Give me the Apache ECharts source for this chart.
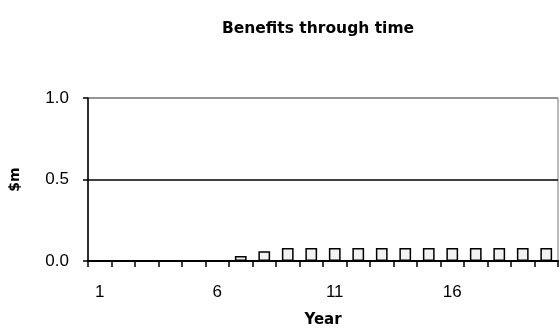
<!DOCTYPE html>
<html>
<head>
<meta charset="utf-8">
<script src="https://cdn.jsdelivr.net/npm/echarts@6/dist/echarts.min.js"></script>
<style>html,body{margin:0;padding:0;background:#fff}#c{width:560px;height:335px}</style>
</head>
<body>
<div id="c"></div>
<script>
const years = ['1','2','3','4','5','6','7','8','9','10','11','12','13','14','15','16','17','18','19','20'];
const benefits = [0,0,0,0,0,0,0.03,0.06,0.08,0.08,0.08,0.08,0.08,0.08,0.08,0.08,0.08,0.08,0.08,0.08];
const yTicks = [0, 0.5, 1.0];

const chart = echarts.init(document.getElementById('c'), null, {renderer:'canvas'});
const font = 'Liberation Sans, Arial, sans-serif';
chart.setOption({
  animation: false,
  backgroundColor: '#fff',
  title: {
    text: 'Benefits through time',
    left: 313, top: 16, textAlign: 'center',
    textStyle: {fontFamily: 'DejaVu Sans', fontWeight: 'bold', fontSize: 15.5, color: '#000'}
  },
  grid: {left: 81, right: 2, top: 98, bottom: 74, show: true, borderColor: '#777', borderWidth: 1},
  xAxis: {
    type: 'category',
    data: years,
    name: 'Year',
    nameLocation: 'middle',
    nameGap: 52,
    nameTextStyle: {fontFamily: 'DejaVu Sans', fontWeight: 'bold', fontSize: 15, color: '#000'},
    axisLine: {lineStyle: {color: '#000', width: 2}},
    axisTick: {show: true, alignWithLabel: false, interval: 0, length: 6, lineStyle: {color: '#000', width: 1.5}},
    axisLabel: {interval: 4, margin: 23, fontFamily: font, fontSize: 17, color: '#000'},
    splitLine: {show: false}
  },
  yAxis: {
    type: 'value',
    min: yTicks[0], max: yTicks[yTicks.length-1], interval: 0.5,
    name: '$m',
    nameLocation: 'middle',
    nameGap: 66,
    nameRotate: 90,
    nameTextStyle: {fontFamily: 'DejaVu Sans', fontWeight: 'bold', fontSize: 14, color: '#000'},
    axisLine: {show: true, lineStyle: {color: '#000', width: 1.5}},
    axisTick: {show: true, length: 5, lineStyle: {color: '#000', width: 1.5}},
    axisLabel: {margin: 19, fontFamily: font, fontSize: 17, color: '#000', formatter: v => v.toFixed(1)},
    splitLine: {show: true, lineStyle: {color: ['#000', '#000', '#888'], width: 1.5}}
  },
  series: [{
    type: 'bar',
    data: benefits,
    barWidth: '50%',
    itemStyle: {color: '#f2f2f2', borderColor: '#000', borderWidth: 1.5}
  }]
});
</script>
</body>
</html>
